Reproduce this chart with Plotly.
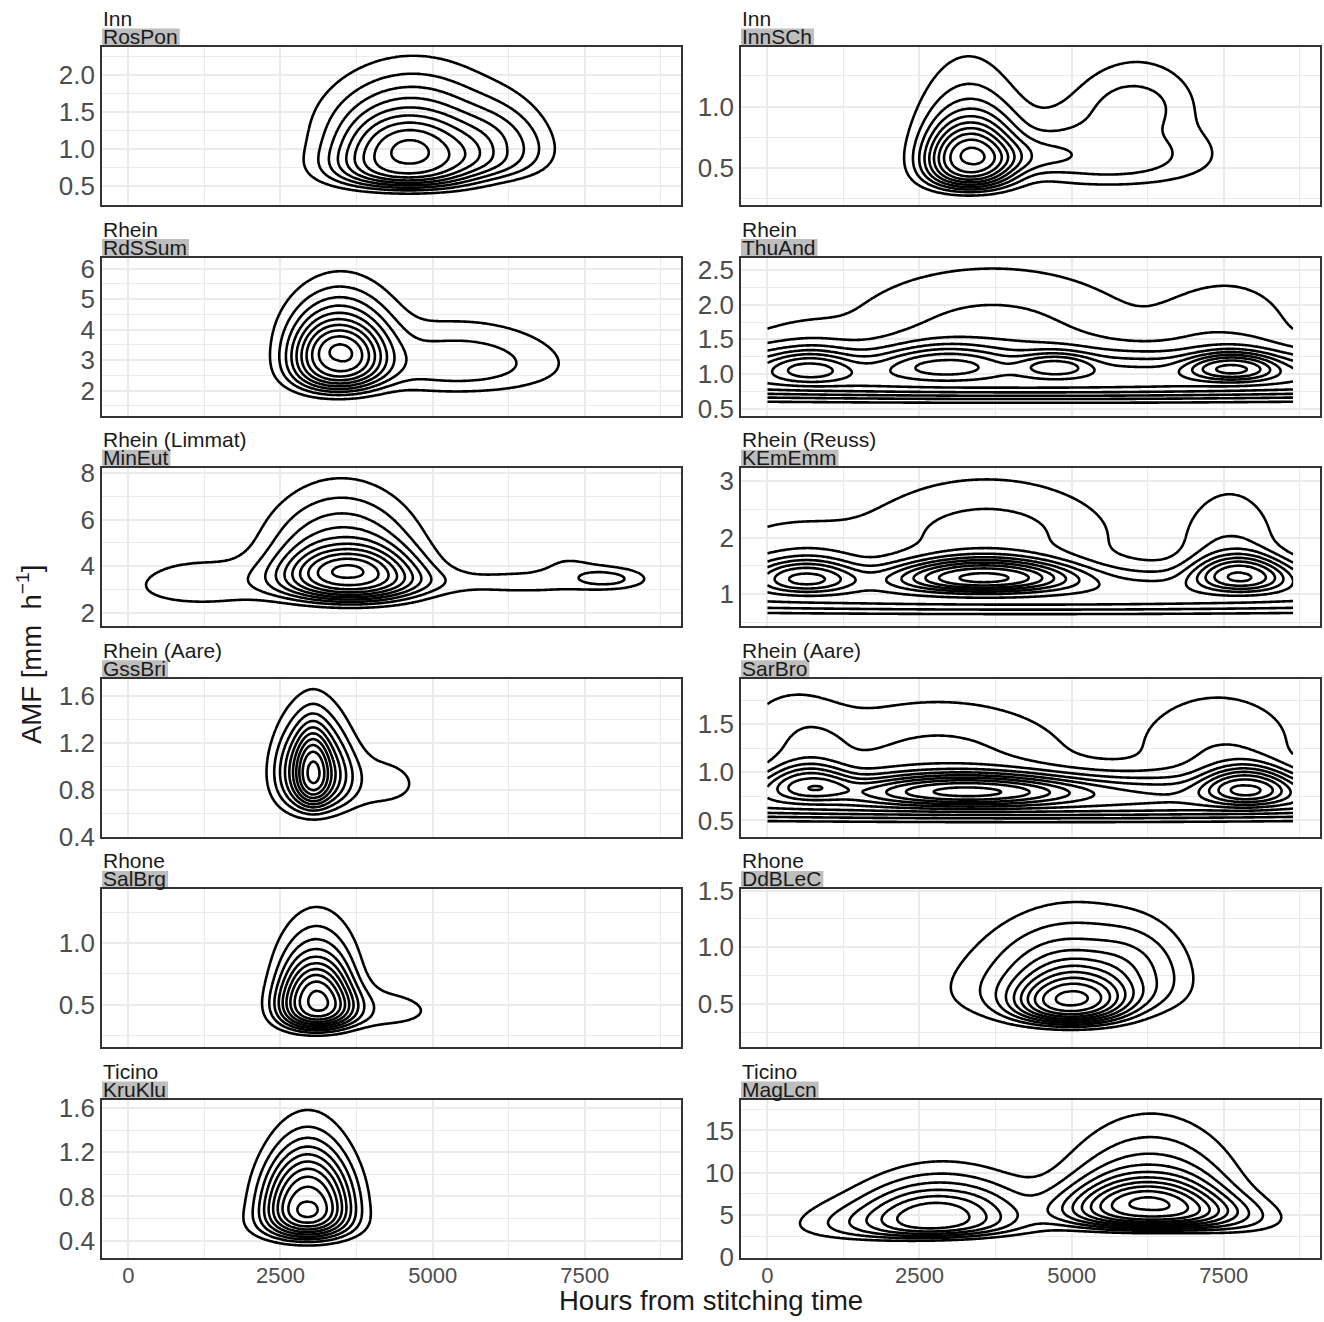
import numpy as np
import plotly.graph_objects as go

W, H = 1324, 1322
FONT = "Liberation Sans, Arial, Helvetica, sans-serif"

rivers = ["Inn", "Inn", "Rhein", "Rhein", "Rhein (Limmat)", "Rhein (Reuss)",
          "Rhein (Aare)", "Rhein (Aare)", "Rhone", "Rhone", "Ticino", "Ticino"]
stations = ["RosPon", "InnSCh", "RdSSum", "ThuAnd", "MinEut", "KEmEmm",
            "GssBri", "SarBro", "SalBrg", "DdBLeC", "KruKlu", "MagLcn"]

# observed span of the hour variable (a year of hourly steps)
hours_span = [0, 8640]

# density modes per station:
# (hour centre, hour spread, AMF median, log-AMF spread, relative weight)
rospon_modes = [(4600, 950, 0.84, 0.42, 1.0), (4700, 1100, 1.50, 0.30, 0.30),
                (6200, 600, 1.00, 0.35, 0.30)]
innsch_modes = [(3320, 580, 0.55, 0.38, 1.0), (3300, 650, 0.90, 0.40, 0.20),
                (5600, 1300, 0.62, 0.40, 0.30), (4400, 500, 0.60, 0.18, 0.12),
                (6100, 700, 1.10, 0.20, 0.17)]
rdssum_modes = [(3430, 600, 2.95, 0.30, 1.0), (3500, 700, 4.20, 0.25, 0.30),
                (5400, 1300, 2.90, 0.30, 0.30)]
thuand_modes = [(4320, 8000, 0.94, 0.29, 0.70), (700, 500, 1.10, 0.16, 0.30),
                (2900, 700, 1.17, 0.16, 0.30), (4750, 450, 1.13, 0.12, 0.30),
                (7650, 550, 1.10, 0.14, 0.55), (3700, 1900, 1.78, 0.30, 0.26),
                (7600, 900, 1.75, 0.28, 0.18), (400, 700, 1.40, 0.25, 0.10)]
mineut_modes = [(3650, 900, 3.45, 0.25, 1.0), (3500, 900, 5.00, 0.30, 0.45),
                (1200, 1000, 3.20, 0.28, 0.18), (6500, 1400, 3.30, 0.15, 0.15),
                (7900, 450, 3.50, 0.10, 0.20), (7250, 450, 4.40, 0.15, 0.10)]
kememm_modes = [(4320, 8000, 1.00, 0.30, 0.40), (3550, 1100, 1.32, 0.17, 0.80),
                (650, 600, 1.31, 0.17, 0.45), (7800, 600, 1.35, 0.18, 0.60),
                (3600, 1600, 2.10, 0.30, 0.25), (7600, 600, 2.00, 0.30, 0.20),
                (300, 1000, 1.70, 0.30, 0.15)]
gssbri_modes = [(3040, 450, 0.95, 0.32, 0.8), (3030, 200, 0.95, 0.25, 0.40),
                (4100, 700, 0.85, 0.25, 0.15)]
sarbro_modes = [(4320, 8000, 0.72, 0.25, 0.55), (3300, 1300, 0.81, 0.15, 0.55),
                (680, 500, 0.90, 0.16, 0.40), (7880, 550, 0.86, 0.18, 0.55),
                (2800, 1700, 1.25, 0.28, 0.22), (7400, 1000, 1.35, 0.25, 0.20),
                (400, 700, 1.40, 0.25, 0.15)]
salbrg_modes = [(3080, 480, 0.51, 0.40, 1.0), (3100, 500, 0.90, 0.30, 0.20),
                (4100, 800, 0.45, 0.30, 0.15)]
ddblec_modes = [(5000, 700, 0.52, 0.35, 1.0), (4800, 1300, 0.65, 0.45, 0.40),
                (6200, 600, 0.75, 0.35, 0.20), (5200, 1000, 1.05, 0.25, 0.15)]
kruklu_modes = [(2950, 550, 0.765, 0.40, 1.0), (2900, 700, 0.55, 0.25, 0.20)]
maglcn_modes = [(6230, 1000, 5.70, 0.38, 1.0), (6300, 1000, 10.0, 0.40, 0.30),
                (2900, 900, 4.60, 0.45, 0.50), (2000, 1100, 4.00, 0.50, 0.30),
                (2900, 900, 8.00, 0.30, 0.15), (7600, 700, 4.50, 0.35, 0.20),
                (4300, 900, 5.00, 0.50, 0.10)]

station_modes = [rospon_modes, innsch_modes, rdssum_modes, thuand_modes,
                 mineut_modes, kememm_modes, gssbri_modes, sarbro_modes,
                 salbrg_modes, ddblec_modes, kruklu_modes, maglcn_modes]

# number of density contour levels drawn per station
contour_levels = [9, 10, 10, 9, 10, 10, 10, 10, 10, 10, 10, 10]

# y axis limits, tick spacing and tick format per station (free scales)
amf_ranges = [[0.24, 2.385], [0.20, 1.485], [1.18, 6.36], [0.40, 2.68],
              [1.43, 8.20], [0.43, 3.23], [0.397, 1.745], [0.33, 1.97],
              [0.15, 1.44], [0.12, 1.51], [0.244, 1.672], [-0.08, 18.6]]
amf_dticks = [0.5, 0.5, 1, 0.5, 2, 1, 0.4, 0.5, 0.5, 0.5, 0.4, 5]
amf_formats = [".1f", ".1f", "d", ".1f", "d", "d", ".1f", ".1f", ".1f", ".1f", ".1f", "d"]

hour_ticks = [0, 2500, 5000, 7500]
hour_range = [-432, 9072]

x_title = "Hours from stitching time"
y_title = "AMF [mm\u00a0\u00a0h<sup>\u22121</sup>]"

# layout in pixels
col_left = [102, 741]
panel_w = 578.5
row_top = [47 + 210.6 * r for r in range(6)]
panel_h = 158

# kernel profile exponent (2 = Gaussian; larger = flatter top, steeper flanks)
SHAPE = 2.5

ARIAL_W = {"A": 667, "B": 667, "C": 722, "D": 722, "E": 667, "G": 778, "I": 278,
           "K": 667, "L": 556, "M": 833, "P": 667, "R": 722, "S": 667, "T": 611,
           "a": 556, "c": 500, "d": 556, "e": 556, "g": 556, "h": 556, "i": 222,
           "l": 222, "m": 833, "n": 556, "o": 556, "r": 333, "s": 500, "t": 278,
           "u": 556}


def text_width(s, size):
    return sum(ARIAL_W.get(ch, 556) for ch in s) / 1000.0 * size


def density(modes, xg, yg):
    X, Y = np.meshgrid(xg, yg)
    L = np.log(Y)
    z = np.zeros_like(X)
    for cx, sx, cy, sly, w in modes:
        r2 = ((X - cx) / sx) ** 2 + ((L - np.log(cy)) / sly) ** 2
        z += w * np.exp(-0.5 * r2 ** (SHAPE / 2))
    return z


fig = go.Figure()
annotations = []
shapes = []
strip_size = 21

for i, name in enumerate(stations):
    r, c = divmod(i, 2)
    x0 = col_left[c]
    top = row_top[r]
    lo, hi = amf_ranges[i]
    span = (hi - lo) / 1.1
    ymin, ymax = lo + 0.05 * span, hi - 0.05 * span

    xg = np.linspace(hours_span[0], hours_span[1], 240)
    yg = np.linspace(ymin, ymax, 160)
    z = density(station_modes[i], xg, yg)
    n = contour_levels[i]
    step = z.max() / (n + 0.35)

    suffix = "" if i == 0 else str(i + 1)
    fig.add_trace(go.Contour(
        x=xg, y=yg, z=z,
        xaxis="x" + suffix, yaxis="y" + suffix,
        contours=dict(start=step, end=step * n, size=step, coloring="lines"),
        line=dict(width=2.6, smoothing=1.0),
        colorscale=[[0, "#000000"], [1, "#000000"]],
        showscale=False, hoverinfo="skip",
    ))

    grid = dict(showgrid=True, gridcolor="#EBEBEB", gridwidth=2)
    fig.layout["xaxis" + suffix] = dict(
        domain=[x0 / W, (x0 + panel_w) / W],
        anchor="y" + suffix,
        range=hour_range, tickvals=hour_ticks,
        showticklabels=(r == 5),
        tickfont=dict(family=FONT, size=22, color="#4D4D4D"),
        ticks="", ticklen=0, ticklabelstandoff=-3,
        zeroline=False, automargin=False,
        showline=True, mirror=True, linecolor="#333333", linewidth=1.6,
        minor=dict(dtick=1250, tick0=0, showgrid=True, gridcolor="#EBEBEB", gridwidth=1),
        **grid,
    )
    fig.layout["yaxis" + suffix] = dict(
        domain=[1 - (top + panel_h) / H, 1 - top / H],
        anchor="x" + suffix,
        range=[lo, hi], dtick=amf_dticks[i], tick0=0,
        tickformat=amf_formats[i],
        tickfont=dict(family=FONT, size=26, color="#4D4D4D"),
        ticks="", zeroline=False, automargin=False,
        showline=True, mirror=True, linecolor="#333333", linewidth=1.6,
        minor=dict(dtick=amf_dticks[i] / 2, tick0=0, showgrid=True,
                   gridcolor="#EBEBEB", gridwidth=1),
        **grid,
    )

    # two-line strip: river name plain, station on grey background
    shapes.append(dict(
        type="rect", xref="paper", yref="paper",
        x0=x0 / W, x1=(x0 + text_width(name, strip_size) + 3) / W,
        y0=1 - (top - 0.8) / H, y1=1 - (top - 18.5) / H,
        fillcolor="#BEBEBE", line=dict(width=0), layer="below",
    ))
    annotations.append(dict(
        text=name, xref="paper", yref="paper", x=(x0 - 0.5) / W, y=1 - (top - 10.6) / H,
        xanchor="left", yanchor="middle", showarrow=False, borderpad=0,
        font=dict(family=FONT, size=strip_size, color="#1A1A1A"),
    ))
    annotations.append(dict(
        text=rivers[i], xref="paper", yref="paper", x=(x0 - 0.5) / W, y=1 - (top - 28.6) / H,
        xanchor="left", yanchor="middle", showarrow=False, borderpad=0,
        font=dict(family=FONT, size=strip_size, color="#1A1A1A"),
    ))

annotations.append(dict(
    text=x_title, xref="paper", yref="paper", x=711 / W, y=1 - 1300 / H,
    xanchor="center", yanchor="middle", showarrow=False,
    font=dict(family=FONT, size=27.5, color="#1A1A1A"),
))
annotations.append(dict(
    text=y_title, xref="paper", yref="paper", x=30 / W, y=1 - 655 / H,
    xanchor="center", yanchor="middle", showarrow=False, textangle=-90,
    font=dict(family=FONT, size=27.5, color="#1A1A1A"),
))

fig.update_layout(
    width=W, height=H,
    margin=dict(l=0, r=0, t=0, b=0, autoexpand=False),
    paper_bgcolor="white", plot_bgcolor="white",
    showlegend=False,
    annotations=annotations, shapes=shapes,
    font=dict(family=FONT),
)

fig.write_html("out.html")
